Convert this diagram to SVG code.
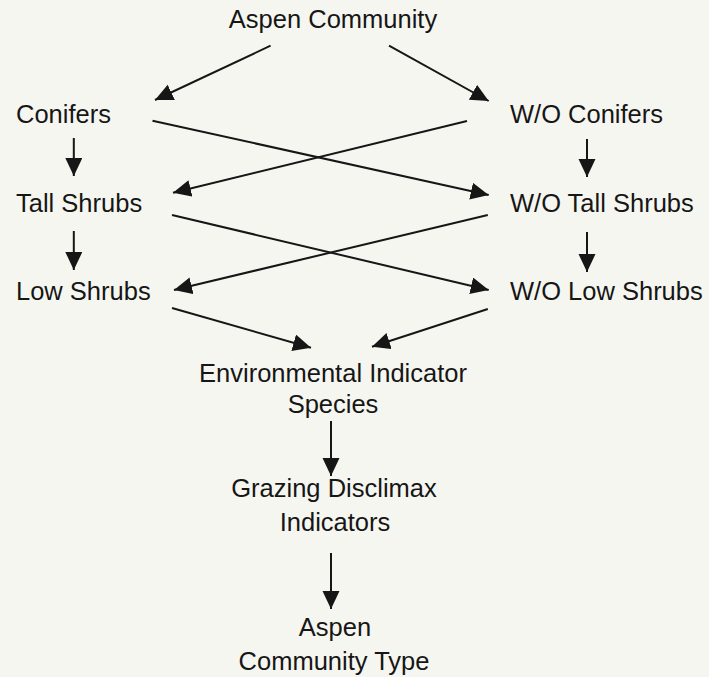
<svg xmlns="http://www.w3.org/2000/svg" width="709" height="677" viewBox="0 0 709 677">
<style>
text{font-family:"Liberation Sans",Arial,sans-serif;font-size:25.5px;fill:#161616}
.c{text-anchor:middle}
line{stroke:#161616;stroke-width:2;marker-end:url(#ah)}
</style>
<defs>
<marker id="ah" markerUnits="userSpaceOnUse" markerWidth="20" markerHeight="18" refX="18" refY="8.5" orient="auto">
<path d="M0,0 L18,8.5 L0,17 Z" fill="#161616"/>
</marker>
</defs>
<rect width="709" height="677" fill="#f6f6f1"/>
<g id="connectors">
<line x1="270.6" y1="45.7" x2="155" y2="100"/>
<line x1="389" y1="45.7" x2="488.7" y2="101"/>
<line x1="152.5" y1="120.7" x2="488.7" y2="195"/>
<line x1="467" y1="121" x2="173" y2="192.7"/>
<line x1="73.8" y1="138" x2="73.8" y2="176"/>
<line x1="587" y1="139" x2="587" y2="177"/>
<line x1="172" y1="215" x2="488.7" y2="290"/>
<line x1="487.8" y1="215" x2="174" y2="290"/>
<line x1="73.8" y1="231" x2="73.8" y2="270"/>
<line x1="587" y1="232" x2="587" y2="272"/>
<line x1="172" y1="308" x2="311" y2="347.7"/>
<line x1="487.8" y1="309" x2="372" y2="346.7"/>
<line x1="331" y1="421" x2="331" y2="476"/>
<line x1="331" y1="553" x2="331" y2="609"/>
</g>
<g id="aspen-community"><text class="c" x="333" y="28">Aspen Community</text></g>
<g id="conifers"><text x="16" y="123">Conifers</text></g>
<g id="wo-conifers"><text x="510" y="123">W/O Conifers</text></g>
<g id="tall-shrubs"><text x="16" y="212">Tall Shrubs</text></g>
<g id="wo-tall-shrubs"><text x="510" y="212">W/O Tall Shrubs</text></g>
<g id="low-shrubs"><text x="16" y="300">Low Shrubs</text></g>
<g id="wo-low-shrubs"><text x="510" y="300">W/O Low Shrubs</text></g>
<g id="environmental-indicator-species"><text class="c" x="333" y="382">Environmental Indicator</text><text class="c" x="333" y="413">Species</text></g>
<g id="grazing-disclimax-indicators"><text class="c" x="334" y="497">Grazing Disclimax</text><text class="c" x="335" y="531">Indicators</text></g>
<g id="aspen-community-type"><text class="c" x="335" y="636">Aspen</text><text class="c" x="334" y="670">Community Type</text></g>
</svg>
